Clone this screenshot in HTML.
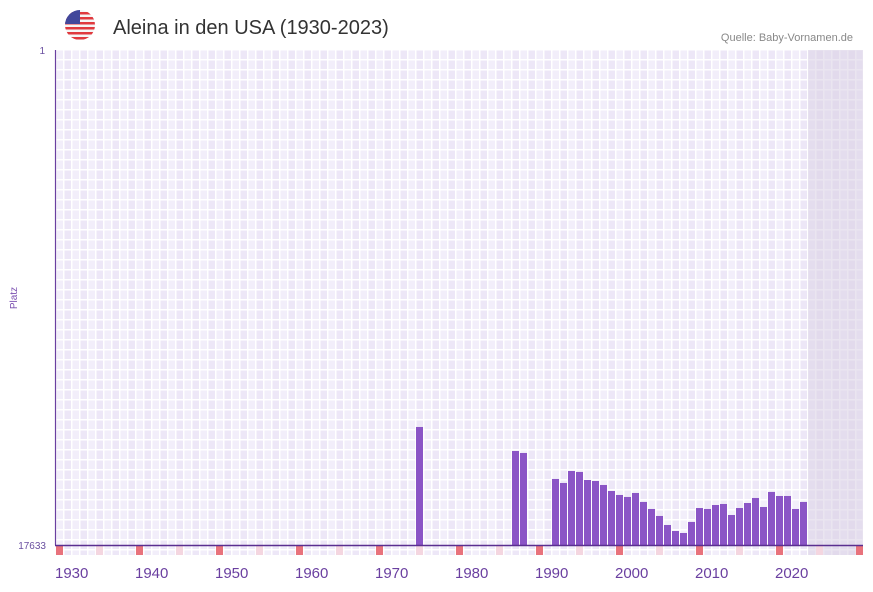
<!DOCTYPE html>
<html><head><meta charset="utf-8"><style>
body{margin:0;background:#fff;width:873px;height:587px;overflow:hidden;font-family:"Liberation Sans",sans-serif}
</style></head><body>
<svg width="873" height="587" xmlns="http://www.w3.org/2000/svg">
<g>
<clipPath id="fc"><circle cx="80" cy="25" r="15"/></clipPath>
<g clip-path="url(#fc)">
<rect x="65" y="10" width="30" height="30" fill="#f5f5f5"/>
<rect x="65" y="12" width="30" height="2.5" fill="#e0393e"/>
<rect x="65" y="17" width="30" height="2.5" fill="#e0393e"/>
<rect x="65" y="22" width="30" height="2.5" fill="#e0393e"/>
<rect x="65" y="27" width="30" height="2.5" fill="#e0393e"/>
<rect x="65" y="32" width="30" height="2.5" fill="#e0393e"/>
<rect x="65" y="37" width="30" height="2.5" fill="#e0393e"/>
<rect x="65" y="10" width="15" height="14" fill="#41479b"/>
</g></g>
<text x="113" y="34" font-size="20" fill="#333">Aleina in den USA (1930-2023)</text>
<text x="853" y="41" font-size="11" fill="#888" text-anchor="end">Quelle: Baby-Vornamen.de</text>
<g id="grid"></g>
<rect x="808" y="50" width="55" height="505" fill="#d8d0e4" opacity="0.55"/>
<g id="bars"></g>
<g id="marks"></g>
<line x1="55.5" y1="50" x2="55.5" y2="545" stroke="#6a3fa0" stroke-width="1.2"/>
<line x1="55" y1="545.5" x2="863" y2="545.5" stroke="#5a2f90" stroke-width="1.5"/>
<text x="45" y="54" font-size="10" fill="#6a4fa0" text-anchor="end">1</text>
<text x="46" y="549" font-size="10" fill="#6a4fa0" text-anchor="end">17633</text>
<text transform="translate(17,298) rotate(-90)" font-size="10" fill="#7a4fb0" text-anchor="middle">Platz</text>
<g id="xlabels"></g>
</svg>
<script>
const years=[1975,1987,1988,1992,1993,1994,1995,1996,1997,1998,1999,2000,2001,2002,2003,2004,2005,2006,2007,2008,2009,2010,2011,2012,2013,2014,2015,2016,2017,2018,2019,2020,2021,2022,2023];
const ranks=[13429,14284,14355,15281,15424,14996,15032,15317,15353,15495,15709,15851,15922,15780,16101,16350,16599,16920,17134,17205,16813,16315,16350,16208,16172,16564,16315,16137,15958,16279,15744,15887,15887,16350,16101];
const tickYears=[1930,1940,1950,1960,1970,1980,1990,2000,2010,2020];
const NS="http://www.w3.org/2000/svg";
const X0=56,SW=8,TOP=50,BOT=545,RMAX=17633;
function xs(y){return 416+(y-1975)*SW;}
function ys(r){return TOP+(r-1)/(RMAX-1)*(BOT-TOP);}
function mk(t,a,p){const e=document.createElementNS(NS,t);for(const k in a)e.setAttribute(k,a[k]);p.appendChild(e);return e;}
const g=document.getElementById('grid');
for(let i=0;i<101;i++){for(let j=0;j<51;j++){
 const x=X0+i*SW,y=TOP+j*10;
 if(x>=863)continue;
 mk('rect',{x:x+0.5,y:y+0.5,width:Math.min(SW-1.5,862-x),height:(j==50?4.5:8.5),fill:(i%2?'#ede7f7':'#f2eefa')},g);
}}
const b=document.getElementById('bars');
years.forEach((yr,i)=>{
 const y=ys(ranks[i]);
 const r=mk('rect',{x:xs(yr),y:y,width:7,height:BOT-y,fill:'#8b55c6'},b);
 
 
});
const m=document.getElementById('marks');
for(let k=0;k<21;k++){
 const x=X0+k*5*SW;
 if(x>=863)continue;
 const r=mk('rect',{x:x,y:546,width:7,height:9,fill:(k%2?'#f4d6e0':'#e8727c')},m);
 
 
}
const xl=document.getElementById('xlabels');
tickYears.forEach(t=>{
 const e=mk('text',{x:X0+(t-1930)*SW-1,y:578,'font-size':15,fill:'#6a3fa0'},xl);
 e.textContent=t;
 
 
});
</script>
</body></html>
